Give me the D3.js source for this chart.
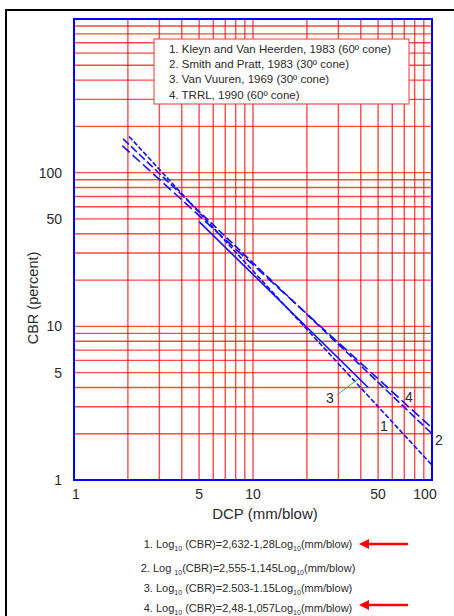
<!DOCTYPE html>
<html>
<head>
<meta charset="utf-8">
<script src="https://cdnjs.cloudflare.com/ajax/libs/d3/7.8.5/d3.min.js"></script>
<style>
body { margin: 0; background: #fff; }
text { font-family: "Liberation Sans", Arial, sans-serif; fill: #2a2a2a; }
</style>
</head>
<body>
<div id="chart"></div>
<script>
// data: DCP (mm/blow) vs CBR (percent)
var lineNames = ["1", "2", "3", "4"];
var lineStart = [[2.03, 172], [1.88, 166], [5.0, 48], [1.86, 150]];
var lineEnd = [[100, 1.25], [100, 2.0], [44, 4.0], [100, 2.18]];
var lineDash = ["5,2", "8,3", null, "10,4"];

var xTicks = [1, 5, 10, 50, 100];
var yTicks = [1, 5, 10, 50, 100];

var legendItems = [
  "1. Kleyn and Van Heerden, 1983 (60\u00ba cone)",
  "2. Smith and Pratt, 1983 (30\u00ba cone)",
  "3. Van Vuuren, 1969 (30\u00ba cone)",
  "4. TRRL, 1990 (60\u00ba cone)"
];

var equations = [
  ["1. Log", "10", " (CBR)=2,632-1,28Log", "10", "(mm/blow)"],
  ["2. Log ", "10", "(CBR)=2,555-1,145Log", "10", "(mm/blow)"],
  ["3. Log", "10", " (CBR)=2.503-1.15Log", "10", "(mm/blow)"],
  ["4. Log", "10", " (CBR)=2,48-1,057Log", "10", "(mm/blow)"]
];
var arrowRows = [0, 3];

var W = 454, H = 616;
var margin = {top: 19, left: 74, right: 22, bottom: 136};

var svg = d3.select("#chart")
  .append("svg")
  .attr("width", W)
  .attr("height", H);

// outer black frame (runs off the right and bottom of the picture)
svg.append("rect")
  .attr("x", 6).attr("y", 10)
  .attr("width", 460).attr("height", 620)
  .attr("fill", "none")
  .attr("stroke", "#000")
  .attr("stroke-width", 2);

var x = d3.scaleLog().domain([1, 100]).range([margin.left, W - margin.right]);
var y = d3.scaleLog().domain([1, 1000]).range([H - margin.bottom, margin.top]);

// log grid
var xGrid = x.ticks(), yGrid = y.ticks();
svg.append("g").selectAll("line")
  .data(xGrid)
  .enter().append("line")
  .attr("x1", function(d) { return x(d); })
  .attr("x2", function(d) { return x(d); })
  .attr("y1", y(1000)).attr("y2", y(1))
  .attr("stroke", "#ff1a1a")
  .attr("stroke-opacity", 0.8)
  .attr("stroke-width", 1.4);
svg.append("g").selectAll("line")
  .data(yGrid)
  .enter().append("line")
  .attr("x1", x(1)).attr("x2", x(100))
  .attr("y1", function(d) { return y(d); })
  .attr("y2", function(d) { return y(d); })
  .attr("stroke", "#ff1a1a")
  .attr("stroke-opacity", 0.8)
  .attr("stroke-width", 1.4);

// blue frame of the plot
svg.append("rect")
  .attr("x", x(1)).attr("y", y(1000))
  .attr("width", x(100) - x(1))
  .attr("height", y(1) - y(1000))
  .attr("fill", "none")
  .attr("stroke", "#0000ff")
  .attr("stroke-width", 2);

// legend box
var lg = svg.append("g");
lg.append("rect")
  .attr("x", 154).attr("y", 39)
  .attr("width", 255).attr("height", 65)
  .attr("fill", "#fff")
  .attr("stroke", "#ff5555")
  .attr("stroke-width", 1.2);
lg.selectAll("text")
  .data(legendItems)
  .enter().append("text")
  .attr("x", 169)
  .attr("y", function(d, i) { return 53 + i * 15.2; })
  .style("font-size", "11.5px")
  .text(function(d) { return d; });

// the four lines
var line = d3.line()
  .x(function(d) { return x(d[0]); })
  .y(function(d) { return y(d[1]); });

svg.append("g").selectAll("path")
  .data(lineNames)
  .enter().append("path")
  .attr("d", function(d, i) { return line([lineStart[i], lineEnd[i]]); })
  .attr("fill", "none")
  .attr("stroke", "#1010ff")
  .attr("stroke-width", 1.6)
  .attr("stroke-dasharray", function(d, i) { return lineDash[i]; });

// line labels
svg.append("text").attr("x", 380).attr("y", 431).style("font-size", "14px").text("1");
svg.append("text").attr("x", 435).attr("y", 445).style("font-size", "14px").text("2");
svg.append("text").attr("x", 326).attr("y", 403).style("font-size", "14px").text("3");
svg.append("text").attr("x", 405).attr("y", 402).style("font-size", "14px").text("4");
svg.append("line")
  .attr("x1", 337).attr("y1", 395)
  .attr("x2", 358).attr("y2", 379)
  .attr("stroke", "#4caf50")
  .attr("stroke-width", 1);

// axes tick labels
svg.append("g").selectAll("text")
  .data(yTicks)
  .enter().append("text")
  .attr("x", 62)
  .attr("y", function(d) { return y(d) + 5; })
  .attr("text-anchor", "end")
  .style("font-size", "14px")
  .text(function(d) { return d; });

svg.append("g").selectAll("text")
  .data(xTicks)
  .enter().append("text")
  .attr("x", function(d) { return x(d) + (d == 1 ? 2 : d == 100 ? -7 : 0); })
  .attr("y", 499)
  .attr("text-anchor", "middle")
  .style("font-size", "14px")
  .text(function(d) { return d; });

// axis titles
svg.append("text")
  .attr("transform", "translate(38,298) rotate(-90)")
  .attr("text-anchor", "middle")
  .style("font-size", "14.5px")
  .text("CBR (percent)");

svg.append("text")
  .attr("x", 265).attr("y", 519)
  .attr("text-anchor", "middle")
  .style("font-size", "15px")
  .text("DCP (mm/blow)");

// equations
var eq = svg.append("g").selectAll("text")
  .data(equations)
  .enter().append("text")
  .attr("x", 248)
  .attr("y", function(d, i) { return [548, 572, 592, 612][i]; })
  .attr("text-anchor", "middle")
  .style("font-size", "11px");
eq.each(function(parts) {
  var t = d3.select(this);
  parts.forEach(function(p, j) {
    var s = t.append("tspan").text(p);
    if (j == 1 || j == 3) s.attr("dy", 3).style("font-size", "7px");
    else if (j > 0) s.attr("dy", -3);
  });
});

// red arrows
svg.append("defs").append("marker")
  .attr("id", "ah")
  .attr("viewBox", "0 0 10 10")
  .attr("refX", 2).attr("refY", 5)
  .attr("markerWidth", 4).attr("markerHeight", 4)
  .attr("orient", "auto")
  .append("path")
  .attr("d", "M0,0 L10,5 L0,10 z")
  .attr("fill", "#ff0000");

svg.append("g").selectAll("line")
  .data(arrowRows)
  .enter().append("line")
  .attr("x1", 408).attr("x2", 367)
  .attr("y1", function(d) { return [544, 568, 588, 605][d]; })
  .attr("y2", function(d) { return [544, 568, 588, 605][d]; })
  .attr("stroke", "#ff0000")
  .attr("stroke-width", 2.5)
  .attr("marker-end", "url(#ah)");
</script>
</body>
</html>
